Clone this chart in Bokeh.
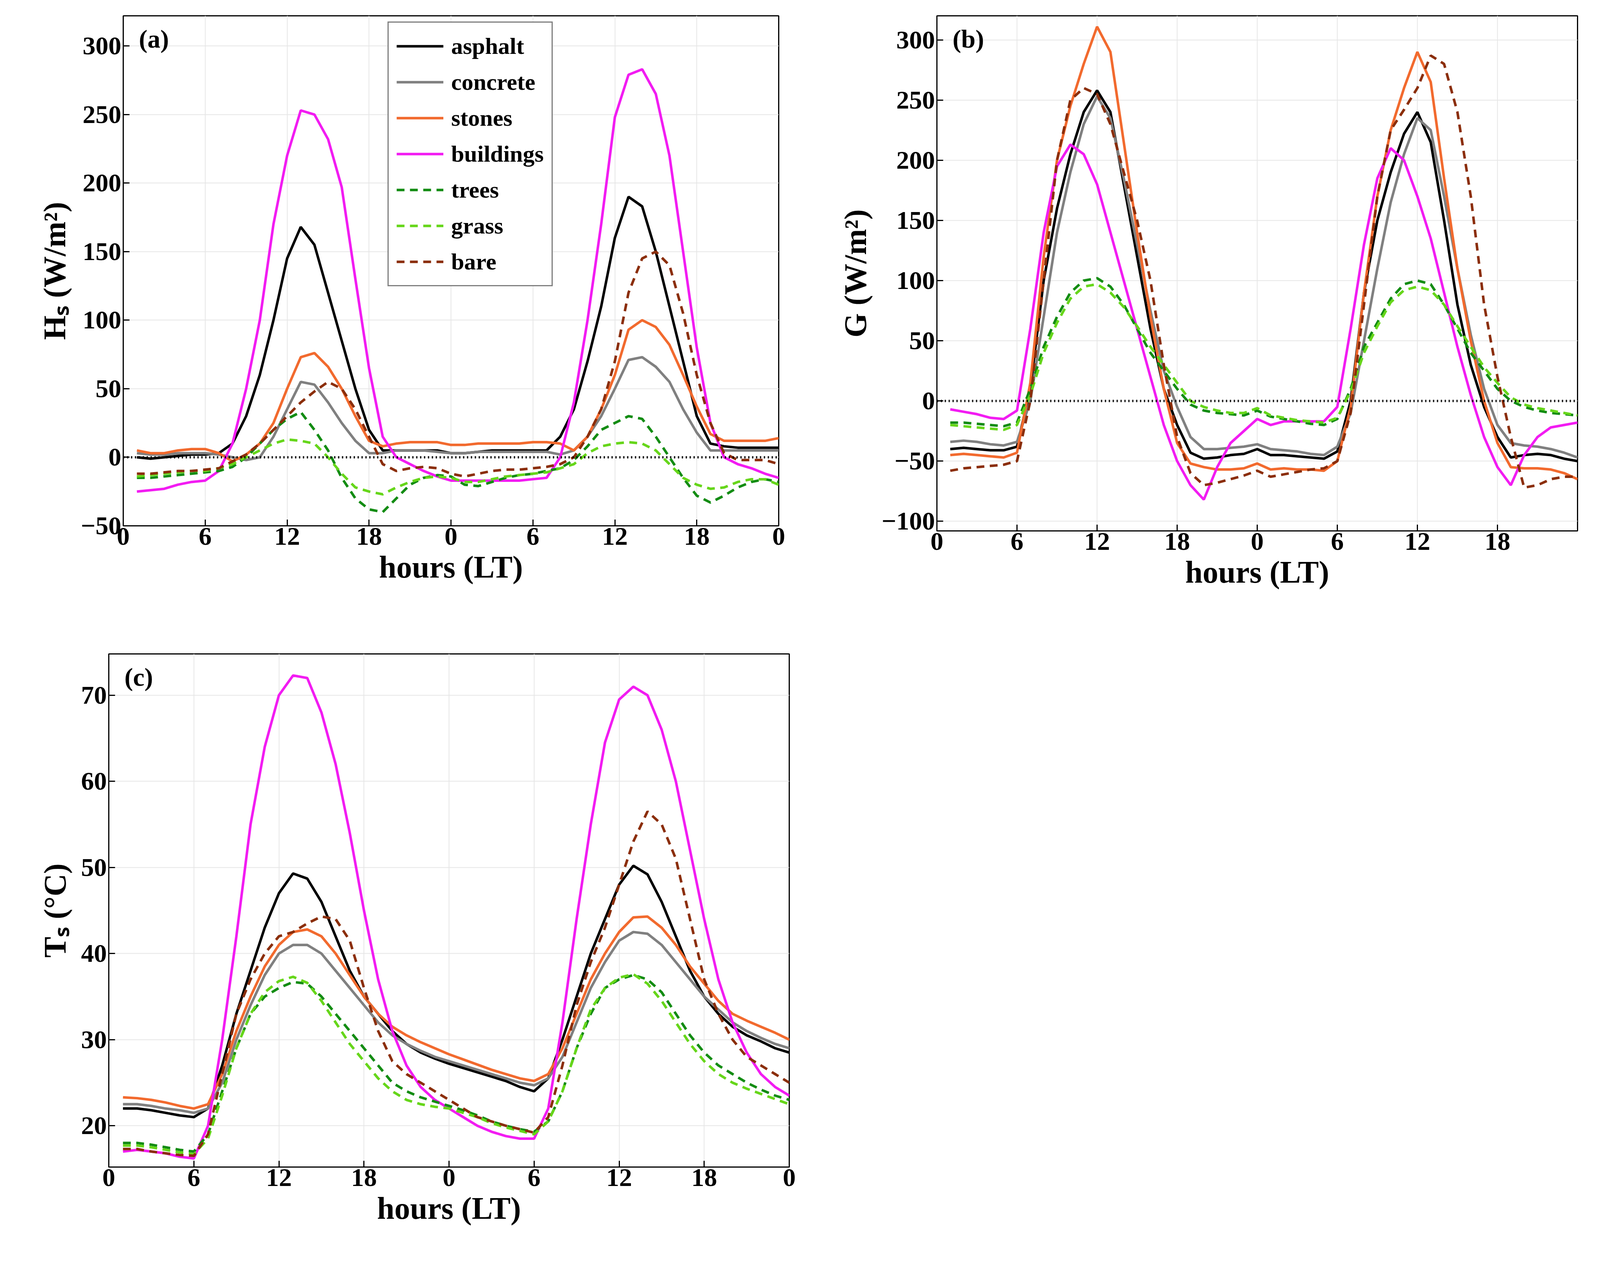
from bokeh.plotting import figure
from bokeh.layouts import column, row
from bokeh.models import Span, Label, Legend, LegendItem, FixedTicker, Range1d
from bokeh.embed import file_html
from bokeh.resources import INLINE

hours = list(range(1, 49))
materials = ["asphalt", "concrete", "stones", "buildings", "trees", "grass", "bare"]
colors = {"asphalt": "#000000", "concrete": "#808080", "stones": "#F26A2E", "buildings": "#F21CF2",
          "trees": "#138C13", "grass": "#66D61A", "bare": "#8B2E0B"}
dashed = {"trees", "grass", "bare"}

Hs = {
 "asphalt": [0,-1,0,1,2,2,3,10,30,60,100,145,168,155,120,85,50,20,5,5,5,5,5,3,3,4,5,5,5,5,5,15,35,70,110,160,190,183,150,110,70,30,10,8,7,7,7,7],
 "concrete": [3,2,2,3,3,3,2,0,-2,0,15,35,55,53,40,25,12,3,3,5,5,5,4,3,3,4,4,4,4,4,4,2,5,15,30,50,71,73,66,55,35,18,5,5,5,5,5,5],
 "stones": [5,3,3,5,6,6,3,-3,2,10,25,50,73,76,66,50,30,12,8,10,11,11,11,9,9,10,10,10,10,11,11,10,5,15,35,60,93,100,95,82,60,37,17,12,12,12,12,14],
 "buildings": [-25,-24,-23,-20,-18,-17,-10,10,50,100,170,220,253,250,232,197,130,65,15,0,-5,-10,-14,-17,-17,-17,-17,-17,-17,-16,-15,0,40,100,170,248,279,283,265,220,150,80,25,0,-5,-8,-12,-15],
 "trees": [-15,-15,-14,-13,-12,-11,-10,-7,0,10,20,28,33,20,5,-15,-30,-38,-40,-30,-20,-15,-13,-14,-20,-21,-18,-15,-13,-12,-10,-8,-2,8,20,25,30,28,15,0,-15,-28,-33,-28,-22,-18,-16,-18],
 "grass": [-14,-13,-12,-11,-10,-10,-8,-5,0,5,10,13,12,10,0,-12,-22,-25,-27,-22,-18,-15,-14,-15,-18,-18,-16,-14,-13,-12,-11,-8,-5,3,8,10,11,10,5,-5,-15,-20,-23,-22,-18,-16,-16,-20],
 "bare": [-12,-12,-11,-10,-10,-9,-8,-3,2,10,20,30,40,48,55,50,35,15,-5,-10,-8,-7,-8,-12,-14,-12,-10,-9,-9,-8,-7,-5,0,15,35,70,120,145,150,140,105,60,25,3,-2,-2,-2,-5],
}
G = {
 "asphalt": [-40,-39,-40,-41,-41,-38,10,100,160,205,240,258,240,180,120,60,10,-20,-43,-48,-47,-45,-44,-40,-45,-45,-46,-47,-48,-42,0,90,150,190,222,240,215,150,80,30,-5,-30,-47,-45,-44,-45,-48,-50],
 "concrete": [-34,-33,-34,-36,-37,-34,0,70,140,190,230,253,235,185,130,75,25,-5,-30,-40,-40,-39,-38,-36,-40,-41,-42,-44,-45,-38,-10,50,110,165,205,235,225,170,110,55,10,-20,-35,-37,-38,-40,-43,-47],
 "stones": [-45,-44,-45,-46,-47,-43,15,120,200,245,280,311,290,215,140,70,10,-35,-52,-55,-57,-57,-56,-52,-57,-56,-57,-57,-58,-50,-5,90,170,225,260,290,265,185,110,50,0,-35,-55,-56,-56,-57,-60,-65],
 "buildings": [-7,-9,-11,-14,-15,-8,60,140,195,213,205,180,140,100,60,20,-20,-50,-70,-82,-55,-35,-25,-15,-20,-17,-17,-17,-17,-5,60,130,185,210,200,170,135,90,45,5,-30,-55,-70,-45,-30,-22,-20,-18],
 "trees": [-18,-18,-19,-20,-21,-18,10,45,70,90,100,102,95,80,60,40,25,10,-3,-8,-10,-11,-12,-8,-13,-15,-17,-19,-20,-15,10,45,65,85,97,100,97,80,60,40,25,10,0,-5,-8,-10,-11,-12],
 "grass": [-20,-21,-22,-23,-24,-20,5,40,65,85,95,97,90,78,62,45,30,15,0,-5,-8,-10,-10,-6,-12,-14,-16,-17,-18,-14,8,40,62,82,92,95,92,80,62,45,28,15,3,-3,-6,-8,-10,-12],
 "bare": [-58,-56,-55,-54,-53,-50,0,100,200,250,260,255,230,190,150,100,30,-30,-60,-70,-68,-65,-62,-58,-63,-61,-59,-57,-56,-50,-10,80,170,225,242,260,287,280,240,170,80,20,-30,-72,-70,-65,-63,-63],
}
Ts = {
 "asphalt": [22,22,21.8,21.5,21.2,21,22,27,33,38,43,47,49.3,48.7,46,42,38,35,33,31,29.5,28.5,27.8,27.2,26.7,26.2,25.7,25.2,24.5,24,25.5,30,35,40,44,48,50.2,49.2,46,42,38,35,33,31.5,30.5,29.8,29,28.5],
 "concrete": [22.5,22.5,22.3,22,21.8,21.5,22,25,30,34,37.5,40,41,41,40,38,36,34,32,30.5,29.5,28.7,28,27.5,27,26.5,26,25.5,25,24.7,25.5,28,32,36,39,41.5,42.5,42.3,41,39,37,35,33.5,32,31,30.2,29.5,29],
 "stones": [23.3,23.2,23,22.7,22.3,22,22.5,26,31,35,38.5,41,42.5,42.8,42,40,37.5,35,33,31.5,30.5,29.7,29,28.3,27.7,27.1,26.5,26,25.5,25.2,26,29,33,37,40,42.5,44.2,44.3,43,41,38.5,36.5,34.5,33,32.2,31.5,30.8,30],
 "buildings": [17,17.2,17,16.8,16.4,16.2,20,30,42,55,64,70,72.3,72,68,62,54,45,37,31,27,24.5,23,22,21,20,19.3,18.8,18.5,18.5,22,32,44,55,64.5,69.5,71,70,66,60,52,44,37,32,28.5,26,24.5,23.5],
 "trees": [18,18,17.8,17.5,17.2,17,19,24,29,33,35,36,36.7,36.5,35,33,31,29,27,25,24,23.3,22.8,22.3,21.8,21.2,20.5,20,19.6,19.3,20.5,24,29,33,36,37,37.5,37,35.5,33,30.5,28.5,27,26,25,24.2,23.5,23],
 "grass": [17.7,17.7,17.5,17.2,16.9,16.7,18.5,23.5,29,33,35.5,36.8,37.3,36.6,34.5,32,29.5,27.5,25.5,24,23,22.5,22.2,22,21.5,21,20.3,19.8,19.4,19,20.5,24,29,33.5,36,37.2,37.6,36.5,34.5,32,29.5,27.5,26,25,24.3,23.7,23.1,22.5],
 "bare": [17.3,17.3,17,16.8,16.6,16.5,19,26,33,37,40,42,42.5,43.5,44.3,44,41.5,36,31,27.5,26,25,24,23,22,21,20.5,20,19.6,19.2,21,27,34,39,43,48,53,56.5,55,51,44,37,33,30,28,27,26,25],
}

FONT = "Liberation Serif"

def make(data, ylab, yr, xmax_tick, title, fw, fh, ml, mr, mt, mb, yticks, zero=True):
    p = figure(output_backend="svg", toolbar_location=None, frame_width=fw, frame_height=fh,
               min_border_left=ml, min_border_right=mr, min_border_top=mt, min_border_bottom=mb,
               x_range=Range1d(0, 48), y_range=Range1d(*yr))
    p.xaxis.ticker = FixedTicker(ticks=list(range(0, xmax_tick + 1, 6)))
    p.xaxis.major_label_overrides = {t: str(t % 24) for t in range(0, 49, 6)}
    p.yaxis.ticker = FixedTicker(ticks=yticks)
    for ax in (p.xaxis, p.yaxis):
        ax.major_label_text_font = FONT
        ax.major_label_text_font_style = "bold"
        ax.major_label_text_font_size = "66px"
        ax.major_label_text_color = "black"
        ax.axis_label_text_font = FONT
        ax.axis_label_text_font_style = "bold"
        ax.axis_label_text_font_size = "80px"
        ax.axis_label_text_color = "black"
        ax.major_tick_in = 16
        ax.major_tick_out = 0
        ax.minor_tick_in = 0
        ax.minor_tick_out = 0
        ax.axis_line_width = 3
        ax.major_tick_line_width = 3
    p.xaxis.axis_label = "hours (LT)"
    p.yaxis.axis_label = ylab
    p.xaxis.axis_label_standoff = 10
    p.yaxis.axis_label_standoff = 20
    p.grid.grid_line_color = "#e6e6e6"
    p.grid.grid_line_width = 2
    p.outline_line_color = "black"
    p.outline_line_width = 3
    p.outline_line_alpha = 1
    if zero:
        p.add_layout(Span(location=0, dimension="width", line_color="black", line_dash="3 7", line_width=6))
    items = []
    for m in materials:
        r = p.line(hours, data[m], line_color=colors[m], line_width=6.5,
                   line_dash="20 14" if m in dashed else "solid")
        items.append(LegendItem(label=m, renderers=[r]))
    p.add_layout(Label(x=40, y=fh - 95, x_units="screen", y_units="screen", text=title,
                       text_font=FONT, text_font_style="bold", text_font_size="66px",
                       text_color="black"))
    return p, items

pa, items = make(Hs, "Hₛ (W/m²)", (-50, 322), 48, "(a)", 1678, 1306, 315, 100, 40, 250,
                 list(range(-50, 301, 50)))
leg = Legend(items=items, location=(677, 613), label_text_font=FONT, label_text_font_style="bold",
             label_text_font_size="60px", label_text_color="black", glyph_width=120, glyph_height=60,
             label_height=80, label_standoff=20, spacing=12, padding=20, margin=0,
             border_line_color="black", border_line_width=3, background_fill_alpha=1)
pa.add_layout(leg, "center")

pb, _ = make(G, "G (W/m²)", (-108, 320), 42, "(b)", 1640, 1319, 305, 10, 40, 237,
             list(range(-100, 301, 50)))
pc, _ = make(Ts, "Tₛ (°C)", (15.2, 74.8), 48, "(c)", 1742, 1314, 278, 20, 78, 240,
             list(range(20, 71, 10)), zero=False)

lay = column(row(pa, pb), pc)
open("out.html", "w").write(file_html(lay, INLINE))
